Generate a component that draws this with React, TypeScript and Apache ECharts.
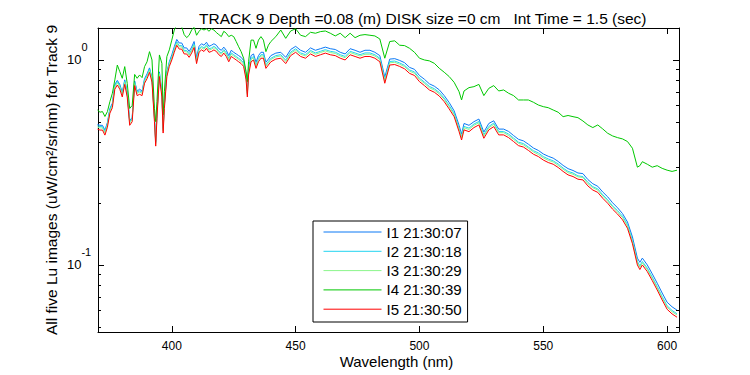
import React, { useEffect, useRef } from 'react';
import * as echarts from 'echarts';

const WAVELENGTH = [
  370, 371, 372, 373, 374, 375, 376, 377, 378, 379,
  380, 381, 382, 383, 384, 385, 386, 387, 388, 389,
  390, 391, 392, 393, 393.5, 394, 395, 396, 396.5, 397, 398, 399,
  400, 401, 402, 403, 404, 405, 406, 407, 408, 409,
  410, 411, 412, 413, 414, 415, 416, 417, 418, 419,
  420, 421, 422, 423, 424, 425, 426, 427, 428, 429,
  430, 430.5, 431, 432, 433, 434, 435, 436, 437, 438, 439,
  440, 442, 444, 446, 448, 450, 452, 454, 456, 458,
  460, 462, 464, 466, 468, 470, 472, 474, 476, 478,
  480, 482, 484, 486, 488, 490, 492, 494, 496, 498,
  500, 502, 504, 506, 508, 510, 512, 514, 516, 517, 518,
  520, 522, 524, 526, 528, 530, 532, 534, 536, 538,
  540, 542, 544, 546, 548, 550, 552, 554, 556, 558,
  560, 562, 564, 566, 568, 570, 572, 574, 576, 578,
  580, 582, 584, 586, 588, 589, 590, 592, 594, 596, 598,
  600, 602, 604,
];

const I1 = [
  0.485, 0.48, 0.48, 0.455, 0.495, 0.58, 0.615, 0.76, 0.795, 0.76,
  0.695, 0.80, 0.695, 0.505, 0.525, 0.79, 0.705, 0.72, 0.705, 0.81,
  0.855, 0.915, 0.82, 0.525, 0.40, 0.55, 0.875, 0.695, 0.465, 0.61, 0.875, 0.98,
  1.06, 1.16, 1.26, 1.21, 1.21, 1.145, 1.145, 1.10, 1.155, 1.23,
  1.03, 1.165, 1.20, 1.18, 1.22, 1.165, 1.18, 1.20, 1.18, 1.135,
  1.115, 1.155, 1.115, 1.05, 1.115, 1.09, 1.07, 1.05, 1.03, 0.995,
  0.855, 0.705, 0.905, 1.05, 1.07, 0.975, 1.05, 1.09, 1.09, 0.975, 1.01,
  1.05, 1.08, 1.09, 1.03, 1.125, 1.165, 1.115, 1.09, 1.145, 1.115,
  1.135, 1.155, 1.135, 1.125, 1.09, 1.07, 1.135, 1.115, 1.09, 1.115,
  1.115, 1.09, 1.05, 0.825, 1.01, 1.015, 0.995, 0.97, 0.92, 0.90,
  0.84, 0.805, 0.765, 0.745, 0.715, 0.67, 0.62, 0.565, 0.48, 0.435, 0.49,
  0.48, 0.50, 0.515, 0.445, 0.49, 0.505, 0.46, 0.46, 0.448, 0.428,
  0.41, 0.403, 0.388, 0.372, 0.362, 0.348, 0.339, 0.332, 0.32, 0.306,
  0.295, 0.289, 0.281, 0.279, 0.261, 0.249, 0.242, 0.227, 0.215, 0.201,
  0.19, 0.178, 0.162, 0.137, 0.108, 0.103, 0.108, 0.10, 0.0905, 0.0815, 0.073,
  0.0658, 0.0625, 0.0602,
];

const I2 = [
  0.478, 0.473, 0.473, 0.447, 0.489, 0.572, 0.608, 0.749, 0.785, 0.749,
  0.686, 0.79, 0.686, 0.499, 0.52, 0.78, 0.697, 0.707, 0.697, 0.80,
  0.842, 0.905, 0.811, 0.52, 0.395, 0.541, 0.863, 0.686, 0.458, 0.603, 0.863, 0.967,
  1.04, 1.134, 1.227, 1.175, 1.175, 1.113, 1.113, 1.071, 1.123, 1.196,
  0.998, 1.134, 1.165, 1.144, 1.186, 1.134, 1.144, 1.165, 1.144, 1.102,
  1.082, 1.123, 1.082, 1.019, 1.082, 1.061, 1.04, 1.019, 0.998, 0.967,
  0.832, 0.686, 0.879, 1.019, 1.04, 0.946, 1.019, 1.061, 1.061, 0.946, 0.983,
  1.019, 1.05, 1.061, 0.998, 1.092, 1.134, 1.082, 1.061, 1.113, 1.082,
  1.102, 1.123, 1.102, 1.092, 1.061, 1.04, 1.102, 1.082, 1.061, 1.082,
  1.082, 1.061, 1.019, 0.801, 0.983, 0.988, 0.967, 0.941, 0.894, 0.874,
  0.815, 0.78, 0.743, 0.724, 0.694, 0.651, 0.60, 0.55, 0.465, 0.423, 0.474,
  0.465, 0.487, 0.501, 0.432, 0.474, 0.492, 0.448, 0.448, 0.435, 0.416,
  0.397, 0.391, 0.376, 0.361, 0.352, 0.338, 0.329, 0.322, 0.311, 0.297,
  0.286, 0.281, 0.272, 0.27, 0.253, 0.241, 0.235, 0.22, 0.208, 0.194,
  0.184, 0.173, 0.157, 0.132, 0.104, 0.099, 0.104, 0.0965, 0.0873, 0.0785, 0.0702,
  0.0632, 0.06, 0.0578,
];

const I3 = [
  0.471, 0.466, 0.466, 0.441, 0.482, 0.564, 0.60, 0.738, 0.774, 0.738,
  0.677, 0.779, 0.677, 0.492, 0.513, 0.769, 0.687, 0.697, 0.687, 0.789,
  0.83, 0.892, 0.80, 0.513, 0.39, 0.533, 0.851, 0.677, 0.451, 0.595, 0.851, 0.953,
  1.025, 1.117, 1.21, 1.158, 1.158, 1.097, 1.097, 1.056, 1.107, 1.179,
  0.984, 1.117, 1.148, 1.128, 1.169, 1.117, 1.128, 1.148, 1.128, 1.087,
  1.066, 1.107, 1.066, 1.005, 1.066, 1.046, 1.025, 1.005, 0.984, 0.953,
  0.82, 0.677, 0.866, 1.005, 1.025, 0.933, 1.005, 1.046, 1.046, 0.933, 0.969,
  1.005, 1.035, 1.046, 0.984, 1.076, 1.117, 1.066, 1.046, 1.097, 1.066,
  1.087, 1.107, 1.087, 1.076, 1.046, 1.025, 1.087, 1.066, 1.046, 1.066,
  1.066, 1.046, 1.005, 0.789, 0.969, 0.974, 0.953, 0.928, 0.882, 0.861,
  0.804, 0.769, 0.732, 0.713, 0.684, 0.642, 0.591, 0.542, 0.458, 0.417, 0.467,
  0.458, 0.48, 0.494, 0.425, 0.467, 0.485, 0.442, 0.442, 0.428, 0.41,
  0.392, 0.385, 0.371, 0.356, 0.346, 0.333, 0.324, 0.318, 0.306, 0.293,
  0.282, 0.277, 0.269, 0.267, 0.249, 0.238, 0.232, 0.217, 0.205, 0.192,
  0.181, 0.17, 0.155, 0.13, 0.1025, 0.0974, 0.1025, 0.0951, 0.086, 0.0774, 0.0692,
  0.0623, 0.0591, 0.057,
];

const I4 = [
  0.57, 0.556, 0.56, 0.53, 0.56, 0.626, 0.688, 0.80, 0.945, 0.877,
  0.814, 0.928, 0.769, 0.58, 0.60, 0.85, 0.814, 0.845, 0.82, 0.928,
  0.98, 1.098, 1.0, 0.58, 0.50, 0.626, 1.058, 0.963, 0.54, 0.70, 1.038, 1.12,
  1.25, 1.40, 1.48, 1.50, 1.45, 1.33, 1.285, 1.32, 1.40, 1.45,
  1.32, 1.38, 1.42, 1.40, 1.42, 1.38, 1.42, 1.40, 1.36, 1.33,
  1.30, 1.38, 1.35, 1.30, 1.32, 1.30, 1.23, 1.16, 1.098, 1.02,
  0.877, 0.784, 0.98, 1.25, 1.25, 1.14, 1.25, 1.30, 1.25, 1.098, 1.18,
  1.23, 1.30, 1.40, 1.275, 1.385, 1.42, 1.32, 1.30, 1.365, 1.35,
  1.375, 1.385, 1.35, 1.31, 1.35, 1.285, 1.35, 1.285, 1.32, 1.33,
  1.32, 1.31, 1.266, 1.02, 1.23, 1.24, 1.18, 1.175, 1.14, 1.09,
  1.02, 1.0, 0.99, 0.963, 0.911, 0.871, 0.83, 0.778, 0.70, 0.638, 0.706,
  0.733, 0.741, 0.76, 0.67, 0.727, 0.75, 0.706, 0.714, 0.688, 0.67,
  0.638, 0.638, 0.638, 0.622, 0.603, 0.592, 0.585, 0.57, 0.556, 0.529,
  0.536, 0.529, 0.523, 0.504, 0.482, 0.468, 0.482, 0.461, 0.439, 0.426,
  0.418, 0.412, 0.40, 0.371, 0.30, 0.305, 0.319, 0.31, 0.30, 0.305, 0.296,
  0.29, 0.286, 0.29,
];

const I5 = [
  0.46, 0.455, 0.455, 0.43, 0.47, 0.55, 0.585, 0.72, 0.755, 0.72,
  0.66, 0.76, 0.66, 0.48, 0.50, 0.75, 0.67, 0.68, 0.67, 0.77,
  0.81, 0.87, 0.78, 0.50, 0.38, 0.52, 0.83, 0.66, 0.44, 0.58, 0.83, 0.93,
  1.00, 1.09, 1.18, 1.13, 1.13, 1.07, 1.07, 1.03, 1.08, 1.15,
  0.96, 1.09, 1.12, 1.10, 1.14, 1.09, 1.10, 1.12, 1.10, 1.06,
  1.04, 1.08, 1.04, 0.98, 1.04, 1.02, 1.00, 0.98, 0.96, 0.93,
  0.80, 0.66, 0.845, 0.98, 1.00, 0.91, 0.98, 1.02, 1.02, 0.91, 0.945,
  0.98, 1.01, 1.02, 0.96, 1.05, 1.09, 1.04, 1.02, 1.07, 1.04,
  1.06, 1.08, 1.06, 1.05, 1.02, 1.00, 1.06, 1.04, 1.02, 1.04,
  1.04, 1.02, 0.98, 0.77, 0.945, 0.95, 0.93, 0.905, 0.86, 0.84,
  0.784, 0.75, 0.714, 0.696, 0.667, 0.626, 0.577, 0.529, 0.447, 0.407, 0.456,
  0.447, 0.468, 0.482, 0.415, 0.456, 0.473, 0.431, 0.431, 0.418, 0.40,
  0.382, 0.376, 0.362, 0.347, 0.338, 0.325, 0.316, 0.31, 0.299, 0.286,
  0.275, 0.27, 0.262, 0.26, 0.243, 0.232, 0.226, 0.2115, 0.20, 0.187,
  0.177, 0.166, 0.151, 0.127, 0.10, 0.095, 0.10, 0.0928, 0.0839, 0.0755, 0.0675,
  0.0608, 0.0577, 0.0556,
];

const SERIES_NAMES = ['I1 21:30:07', 'I2 21:30:18', 'I3 21:30:29', 'I4 21:30:39', 'I5 21:30:50'];
const SERIES_COLORS = ['#0a78f5', '#22d4f0', '#8cf58c', '#00c800', '#ff0000'];
const MINOR_TICKS = [0.05, 0.06, 0.07, 0.08, 0.09, 0.2, 0.3, 0.4, 0.5, 0.6, 0.7, 0.8, 0.9];

const TITLE = 'TRACK 9 Depth =0.08 (m) DISK size =0 cm \u00a0 Int Time = 1.5 (sec)';
const X_NAME = 'Wavelength (nm)';
const Y_NAME = 'All five Lu images (uW/cm\u00b2/sr/nm) for Track 9';

const X_MIN = 370.2;
const X_MAX = 604.8;
const Y_MIN = 0.0471;
const Y_MAX = 1.432;

const FONT = "'Liberation Sans', Arial, sans-serif";

export default function App() {
  const ref = useRef<HTMLDivElement>(null);

  useEffect(() => {
    if (!ref.current) return;
    const chart = echarts.init(ref.current, undefined, { renderer: 'svg' });
    const allSeries = [I1, I2, I3, I4, I5];

    const lineSeries = allSeries.map((vals, i) => ({
      type: 'line',
      name: SERIES_NAMES[i],
      data: WAVELENGTH.map((w, j) => [w, vals[j]]),
      symbol: 'none',
      showSymbol: false,
      xAxisIndex: 0,
      yAxisIndex: 0,
      clip: true,
      z: 2 + i,
      lineStyle: { width: 1, color: SERIES_COLORS[i] },
      itemStyle: { color: SERIES_COLORS[i] },
    }));

    const minorTickSeries = {
      type: 'custom',
      xAxisIndex: 0,
      yAxisIndex: 0,
      silent: true,
      clip: false,
      z: 20,
      data: MINOR_TICKS.map((v) => [X_MIN, v]),
      renderItem: (_params: any, api: any) => {
        const v = api.value(1);
        const l = api.coord([X_MIN, v]);
        const r = api.coord([X_MAX, v]);
        const y = Math.round(l[1]) + 0.5;
        return {
          type: 'group',
          children: [
            { type: 'line', shape: { x1: l[0], y1: y, x2: l[0] + 3, y2: y }, style: { stroke: '#000', lineWidth: 1 } },
            { type: 'line', shape: { x1: r[0] - 3, y1: y, x2: r[0], y2: y }, style: { stroke: '#000', lineWidth: 1 } },
          ],
        };
      },
    };

    const xLabel = (v: number) => (Math.abs(v % 50) < 1e-6 ? String(Math.round(v)) : '');
    const yLabel = (v: number) => {
      const e = Math.log10(v);
      const r = Math.round(e);
      if (Math.abs(e - r) > 1e-6) return '';
      return `{b|10}{s|${r}}`;
    };

    const axisLineStyle = { color: '#000', width: 1 };

    chart.setOption({
      animation: false,
      backgroundColor: '#fff',
      title: {
        text: TITLE,
        left: 194,
        top: 5,
        textStyle: { fontSize: 15.5, fontWeight: 'normal', fontFamily: FONT, color: '#000' },
      },
      legend: {
        data: SERIES_NAMES,
        orient: 'vertical',
        left: 313,
        top: 221,
        padding: [3.5, 6, 5.3, 10],
        itemWidth: 58,
        itemHeight: 15,
        itemGap: 4.3,
        backgroundColor: '#fff',
        borderColor: '#000',
        borderWidth: 1,
        borderRadius: 0,
        selectedMode: false,
        itemStyle: { opacity: 0, borderWidth: 0 },
        lineStyle: { width: 1 },
        textStyle: { fontSize: 15, lineHeight: 15, fontFamily: FONT, color: '#000' },
      },
      grid: { left: 98, top: 28, width: 581, height: 304, show: false },
      xAxis: [
        {
          type: 'value',
          min: X_MIN,
          max: X_MAX,
          position: 'bottom',
          splitNumber: 5,
          axisLine: { show: true, onZero: false, lineStyle: axisLineStyle },
          axisTick: { show: true, inside: true, length: 6, lineStyle: axisLineStyle },
          splitLine: { show: false },
          axisLabel: { color: '#000', fontSize: 12, fontFamily: FONT, margin: 8, formatter: xLabel },
          name: X_NAME,
          nameLocation: 'middle',
          nameGap: 22,
          nameMoveOverlap: false,
          nameTextStyle: { fontSize: 15, fontFamily: FONT, color: '#000', padding: [0, 0, 0, 16] },
        },
        {
          type: 'value',
          min: X_MIN,
          max: X_MAX,
          position: 'top',
          splitNumber: 5,
          axisLine: { show: true, onZero: false, lineStyle: axisLineStyle },
          axisTick: { show: true, inside: true, length: 6, lineStyle: axisLineStyle },
          splitLine: { show: false },
          axisLabel: { show: false },
        },
      ],
      yAxis: [
        {
          type: 'log',
          logBase: 10,
          min: Y_MIN,
          max: Y_MAX,
          position: 'left',
          axisLine: { show: true, onZero: false, lineStyle: axisLineStyle },
          axisTick: { show: true, inside: true, length: 6, lineStyle: axisLineStyle },
          minorTick: { show: false },
          splitLine: { show: false },
          axisLabel: {
            color: '#000',
            align: 'left',
            margin: 31,
            formatter: yLabel,
            rich: {
              b: { fontSize: 13, fontFamily: FONT, color: '#000' },
              s: { fontSize: 11, fontFamily: FONT, color: '#000', padding: [0, 0, 25, 0] },
            },
          },
          name: Y_NAME,
          nameLocation: 'middle',
          nameGap: 39,
          nameMoveOverlap: false,
          nameTextStyle: { fontSize: 15.5, fontFamily: FONT, color: '#000' },
        },
        {
          type: 'log',
          logBase: 10,
          min: Y_MIN,
          max: Y_MAX,
          position: 'right',
          axisLine: { show: true, onZero: false, lineStyle: axisLineStyle },
          axisTick: { show: true, inside: true, length: 6, lineStyle: axisLineStyle },
          minorTick: { show: false },
          splitLine: { show: false },
          axisLabel: { show: false },
        },
      ],
      series: [...lineSeries, minorTickSeries],
    });

    return () => chart.dispose();
  }, []);

  return <div ref={ref} style={{ position: 'absolute', left: 0, top: 0, width: 750, height: 375 }} />;
}
